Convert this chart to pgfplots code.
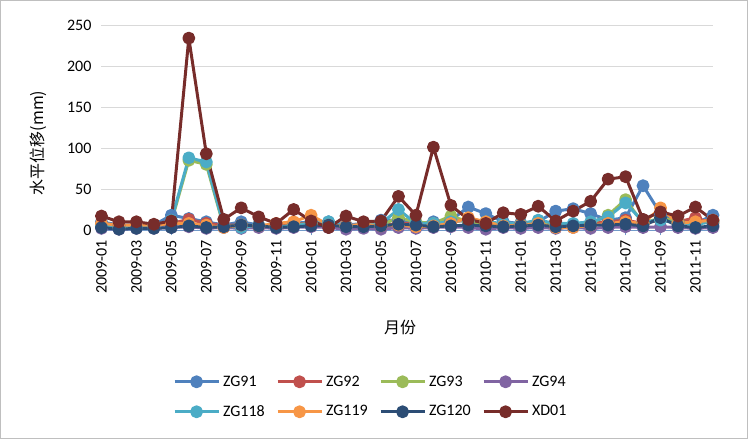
\documentclass[border=0pt]{standalone}
\usepackage{fontspec}
\setmainfont{Carlito}
\newfontfamily\cjk{Noto Sans CJK SC}
\usepackage{pgfplots}
\pgfplotsset{compat=1.18}
\usepackage{pgfplotstable}

\definecolor{cA}{HTML}{4F81BD}
\definecolor{cB}{HTML}{C0504D}
\definecolor{cC}{HTML}{9BBB59}
\definecolor{cD}{HTML}{8064A2}
\definecolor{cE}{HTML}{4BACC6}
\definecolor{cF}{HTML}{F79646}
\definecolor{cG}{HTML}{2C4D75}
\definecolor{cH}{HTML}{772C2A}

\pgfplotstableread{
i  ZG91 ZG92 ZG93 ZG94 ZG118 ZG119 ZG120 XD01
0  10   7    4    2    5     8     3     17
1  6    5    3    1    4     6     1     10
2  6    6    4    2    4     6     2     10
3  6    5    4    2    5     6     2     7
4  18   8    10   3    12    8     3     11
5  14   13   85   4    88    8     5     234
6  10   8    80   2    83    6     3     93
7  6    6    4    3    5     3     4     13
8  10   6    6    2    3     6     6     27
9  6    5    5    3    6     5     5     16
10 5    4    3    2    4     8     3     8
11 8    7    6    3    5     10    4     25
12 10   8    8    4    8     18    5     11
13 10   6    6    3    10    6     6     3
14 6    5    4    1    5     5     4     17
15 8    6    5    2    6     7     4     10
16 12   5    6    1    8     5     5     11
17 12   8    15   3    25    6     7     41
18 8    8    10   2    8     4     6     18
19 10   6    8    3    8     5     4     101
20 12   10   17   4    10    8     5     30
21 28   12   10   3    12    15    6     13
22 20   8    7    1    10    10    5     8
23 10   6    6    3    8     5     4     21
24 8    8    6    2    8     6     5     19
25 10   10   8    3    12    8     6     29
26 23   6    5    2    8     3     4     11
27 26   6    5    3    8     3     5     23
28 20   8    8    2    10    6     6     35
29 12   10   18   3    16    8     6     62
30 15   12   37   4    33    10    7     65
31 54   8    8    3    10    8     5     13
32 20   12   15   4    12    27    15    22
33 8    10   10   3    8     8     5     17
34 8    15   8    2    7     10    3     28
35 18   8    10   3    10    12    5     12
}\data

\begin{document}
\begin{tikzpicture}
\useasboundingbox (0pt,0pt) rectangle (561pt,329.25pt);
\draw[black!25, line width=0.75pt] (0.375pt,0.375pt) rectangle (560.625pt,328.875pt);
\node[rotate=90, font=\cjk\fontsize{12}{14}\selectfont] at (28.5pt,222pt) {水平位移(mm)};
\node[font=\cjk\fontsize{12}{14}\selectfont] at (300pt,84pt) {月份};
\begin{axis}[
  at={(76.1pt,156.75pt)}, anchor=origin,
  scale only axis, width=458.6pt, height=153.75pt,
  xmin=0, xmax=35, ymin=0, ymax=250,
  clip=false,
  separate axis lines,
  axis x line*=bottom, axis y line*=left,
  y axis line style={draw=none},
  x axis line style={cA!80, line width=0.75pt, -},
  tick align=outside,
  major tick length=4pt,
  xtick={0,2,...,34},
  xticklabels={2009-01,2009-03,2009-05,2009-07,2009-09,2009-11,2010-01,2010-03,2010-05,2010-07,2010-09,2010-11,2011-01,2011-03,2011-05,2011-07,2011-09,2011-11},
  xtick style={cA!80, line width=0.75pt},
  ytick={0,50,...,250},
  ytick style={draw=none},
  ymajorgrids,
  grid style={black!15, line width=0.75pt},
  /pgf/number format/assume math mode=true,
  xticklabel style={rotate=90, anchor=east, font=\fontsize{12}{14}\selectfont},
  yticklabel style={font=\fontsize{12}{14}\selectfont},
  legend columns=4,
  legend style={draw=none, fill=none, at={(0.454,-0.683)}, anchor=north,
    font=\fontsize{12}{14}\selectfont, row sep=9pt,
    nodes={inner xsep=2.25pt, inner ysep=2pt}},
  legend image code/.code={\draw[mark repeat=2,mark phase=2,#1] plot coordinates {(0pt,0pt) (16.5pt,0pt) (33pt,0pt)};},
  every axis plot/.append style={line width=2.25pt, mark=*, mark size=3.7pt, line join=round},
]
\addplot[cA, mark options={fill=cA}] table[x=i,y=ZG91] {\data};
\addlegendentry{\makebox[37.5pt][l]{ZG91}}
\addplot[cB, mark options={fill=cB}] table[x=i,y=ZG92] {\data};
\addlegendentry{\makebox[37.5pt][l]{ZG92}}
\addplot[cC, mark options={fill=cC}] table[x=i,y=ZG93] {\data};
\addlegendentry{\makebox[37.5pt][l]{ZG93}}
\addplot[cD, mark options={fill=cD}] table[x=i,y=ZG94] {\data};
\addlegendentry{\makebox[37.5pt][l]{ZG94}}
\addplot[cE, mark options={fill=cE}] table[x=i,y=ZG118] {\data};
\addlegendentry{\makebox[37.5pt][l]{ZG118}}
\addplot[cF, mark options={fill=cF}] table[x=i,y=ZG119] {\data};
\addlegendentry{\makebox[37.5pt][l]{ZG119}}
\addplot[cG, mark options={fill=cG}] table[x=i,y=ZG120] {\data};
\addlegendentry{\makebox[37.5pt][l]{ZG120}}
\addplot[cH, mark options={fill=cH}] table[x=i,y=XD01] {\data};
\addlegendentry{\makebox[37.5pt][l]{XD01}}
\end{axis}
\end{tikzpicture}
\end{document}
